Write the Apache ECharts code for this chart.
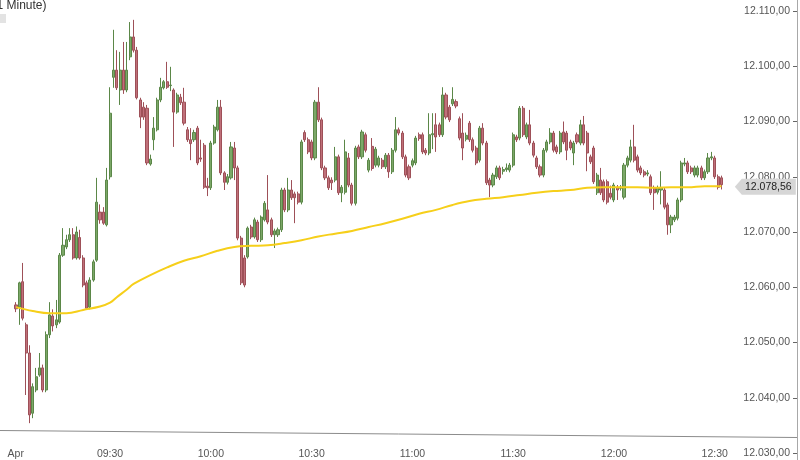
<!DOCTYPE html>
<html>
<head>
<meta charset="utf-8">
<script src="https://cdn.jsdelivr.net/npm/echarts@6/dist/echarts.min.js"></script>
<style>
html,body{margin:0;padding:0;background:#fff;}
#chart{width:800px;height:460px;}
</style>
</head>
<body>
<div id="chart"></div>
<script>
// ---- axis labels ----
const tickTimes  = ['09:00','09:30','10:00','10:30','11:00','11:30','12:00','12:30'];
const tickLabels = ['Apr','09:30','10:00','10:30','11:00','11:30','12:00','12:30'];
const lastPrice = 12078.56;

// ---- 1-minute candles [open, close, low, high], 09:02 .. 12:32 ----
const bars0900 = [
 [12056.8,12056.1,12055.5,12057.3],[12056.4,12060.8,12053.2,12061.0],[12061.0,12054.4,12054.0,12064.4],
 [12053.2,12048.1,12040.5,12053.6],[12048.1,12036.9,12035.4,12049.5],[12037.2,12042.0,12036.3,12042.6],
 [12041.4,12043.8,12041.0,12045.4],[12044.1,12045.4,12043.8,12048.1],[12045.4,12041.4,12041.0,12046.0],
 [12041.4,12051.4,12041.0,12052.0],[12051.4,12055.0,12050.8,12057.3],[12054.8,12053.0,12052.0,12056.0],
 [12053.2,12054.1,12052.6,12057.7],[12053.7,12065.8,12053.4,12066.2],[12065.8,12067.6,12065.5,12070.7],
 [12067.3,12068.6,12066.9,12069.5],[12068.6,12069.5,12068.2,12070.7],[12069.5,12065.3,12065.0,12070.7],
 [12065.3,12070.0,12065.0,12071.0],[12069.0,12065.3,12065.0,12070.4],[12065.3,12060.4,12060.0,12065.8],
 [12060.8,12056.2,12056.0,12061.2],[12056.4,12061.3,12056.0,12061.8],[12061.3,12064.6,12061.0,12065.0],
 [12064.9,12075.4,12064.6,12079.8],[12073.6,12072.2,12071.5,12075.0],[12073.6,12071.6,12071.3,12074.5],
 [12071.3,12079.4,12071.0,12081.6]
];
const bars0930 = [
 [12080.0,12091.5,12079.5,12096.2],[12098.0,12099.3,12096.1,12106.6],[12099.3,12096.1,12095.7,12102.9],
 [12095.7,12099.3,12093.0,12102.6],[12099.3,12095.7,12095.0,12104.4],[12095.7,12099.3,12095.3,12104.4],
 [12101.7,12105.3,12101.1,12108.0],[12105.3,12102.9,12102.5,12108.4],[12102.9,12094.3,12094.0,12103.5],
 [12093.9,12090.8,12088.8,12094.3],[12092.6,12090.8,12090.3,12093.5],[12092.4,12082.5,12082.1,12093.0],
 [12082.3,12083.2,12082.0,12084.0],[12086.7,12088.8,12084.8,12090.8],[12088.5,12093.9,12088.2,12094.3],
 [12093.9,12096.2,12093.5,12097.9],[12096.1,12097.2,12095.8,12097.5],[12097.2,12096.2,12095.9,12100.8],
 [12096.5,12096.6,12095.5,12099.9],[12095.7,12091.7,12085.4,12096.0],[12091.7,12094.8,12091.4,12095.2],
 [12094.4,12093.4,12093.0,12095.0],[12093.5,12089.7,12089.3,12096.1],[12088.5,12086.7,12086.3,12089.0],
 [12086.7,12086.0,12083.0,12088.8],[12086.7,12088.0,12086.3,12088.5],[12088.8,12082.5,12082.1,12089.2],
 [12083.4,12083.2,12082.7,12086.7],[12085.7,12078.1,12077.8,12086.1],[12078.3,12078.0,12076.5,12079.8]
];
const bars1000 = [
 [12078.0,12086.1,12077.6,12086.5],[12086.1,12089.0,12085.8,12089.4],[12088.5,12092.6,12088.2,12093.9],
 [12092.6,12080.7,12080.3,12093.9],[12080.7,12079.0,12077.6,12081.0],[12079.0,12080.0,12078.6,12080.5],
 [12079.8,12085.4,12079.5,12086.3],[12085.2,12081.6,12079.4,12086.3],[12081.6,12068.9,12068.5,12082.0],
 [12068.9,12060.8,12060.4,12069.3],[12065.3,12060.4,12060.0,12065.8],[12065.5,12070.7,12065.2,12071.0],
 [12070.9,12069.1,12068.7,12071.3],[12069.1,12072.2,12068.8,12072.6],[12071.8,12068.6,12068.2,12072.2],
 [12068.6,12072.7,12068.2,12073.0],[12072.2,12075.2,12071.9,12075.6],[12074.0,12071.8,12071.4,12080.3],
 [12072.2,12069.5,12069.1,12072.6],[12069.5,12070.2,12067.1,12070.6],[12069.5,12070.4,12069.1,12070.8],
 [12070.4,12077.6,12070.0,12078.0],[12077.6,12074.0,12073.6,12078.0],[12074.0,12077.6,12073.6,12079.8],
 [12077.6,12076.2,12075.8,12079.4],[12076.9,12076.2,12071.6,12077.3],[12076.9,12075.4,12075.0,12077.3],
 [12075.4,12086.3,12075.0,12086.7],[12088.0,12086.7,12086.3,12088.4],[12086.7,12084.5,12084.1,12087.1]
];
const bars1030 = [
 [12086.3,12083.4,12083.0,12086.7],[12083.4,12093.5,12083.0,12093.9],[12093.5,12090.3,12089.9,12096.2],
 [12090.3,12081.6,12081.2,12090.7],[12081.6,12079.8,12079.4,12082.0],[12079.8,12078.0,12077.6,12080.2],
 [12079.4,12078.9,12077.6,12079.9],[12079.4,12083.6,12079.0,12085.4],[12083.6,12077.1,12076.7,12084.0],
 [12077.1,12078.1,12075.4,12078.5],[12077.2,12084.5,12076.8,12086.7],[12083.4,12078.5,12078.1,12084.3],
 [12078.5,12075.2,12074.8,12078.9],[12075.2,12085.2,12074.8,12085.6],[12085.4,12083.6,12083.2,12085.8],
 [12083.6,12088.1,12083.2,12088.5],[12087.6,12084.8,12084.4,12088.0],[12081.2,12083.0,12080.8,12083.4],
 [12085.5,12081.5,12081.1,12087.0],[12082.1,12085.0,12081.7,12085.4],[12082.1,12083.4,12081.7,12083.8],
 [12083.0,12081.8,12081.4,12083.4],[12081.8,12083.9,12081.4,12084.3],[12083.9,12080.9,12079.8,12084.3],
 [12080.9,12084.8,12080.5,12085.2],[12084.8,12088.5,12084.4,12090.8],[12088.5,12087.9,12087.5,12088.9],
 [12087.9,12083.6,12083.2,12088.3],[12083.6,12080.3,12079.9,12084.0],[12081.8,12079.8,12079.4,12082.2]
];
const bars1100 = [
 [12082.1,12082.9,12081.7,12083.3],[12082.5,12087.0,12082.1,12087.4],[12087.6,12086.9,12086.5,12088.0],
 [12087.6,12084.5,12084.1,12088.0],[12084.8,12084.3,12083.9,12085.2],[12084.3,12087.6,12083.9,12091.5],
 [12087.6,12087.8,12085.0,12091.5],[12089.4,12087.2,12084.5,12091.5],[12089.4,12087.6,12087.2,12089.8],
 [12087.6,12094.8,12087.2,12096.2],[12094.8,12090.8,12090.4,12095.2],[12092.6,12090.3,12089.9,12093.0],
 [12093.2,12094.0,12092.8,12096.2],[12093.6,12092.8,12092.4,12094.0],[12090.5,12087.0,12086.6,12090.9],
 [12087.9,12085.2,12083.0,12091.5],[12086.8,12087.5,12086.4,12088.0],[12089.7,12086.7,12086.3,12090.1],
 [12086.7,12084.8,12084.4,12087.1],[12085.2,12082.5,12082.1,12085.6],[12083.0,12088.8,12082.6,12089.2],
 [12088.8,12086.1,12085.7,12089.7],[12086.1,12078.9,12078.5,12086.5],[12079.4,12078.5,12076.3,12079.8],
 [12078.5,12080.3,12078.1,12080.7],[12080.0,12081.6,12079.6,12082.0],[12081.6,12079.8,12079.4,12082.0],
 [12081.0,12081.3,12080.4,12081.8],[12081.3,12081.6,12080.9,12082.4],[12081.2,12082.1,12080.8,12082.5]
];
const bars1130 = [
 [12082.1,12087.6,12081.7,12088.0],[12087.2,12086.7,12086.3,12087.6],[12087.0,12092.4,12086.6,12092.8],
 [12092.4,12087.6,12087.2,12092.8],[12087.2,12089.4,12086.8,12089.8],[12089.4,12086.1,12085.7,12092.1],
 [12086.1,12083.9,12083.5,12086.5],[12083.4,12081.8,12081.4,12083.8],[12081.8,12080.3,12079.9,12082.2],
 [12080.3,12084.8,12079.9,12085.2],[12084.8,12086.3,12084.4,12086.7],[12086.3,12087.9,12085.9,12088.8],
 [12087.9,12084.8,12084.4,12088.3],[12085.4,12084.5,12084.1,12085.8],[12084.5,12087.9,12084.1,12088.3],
 [12088.1,12086.3,12085.9,12090.0],[12087.9,12084.8,12083.0,12088.3],[12086.3,12085.2,12084.8,12086.7],
 [12084.3,12086.1,12082.1,12086.5],[12087.6,12086.3,12085.9,12088.0],[12086.1,12089.4,12085.7,12090.3],
 [12089.4,12086.1,12085.7,12091.0],[12087.9,12084.3,12081.0,12088.3],[12083.6,12082.7,12082.3,12084.0],
 [12085.2,12079.1,12078.7,12085.6],[12077.1,12080.3,12076.7,12080.7],[12079.4,12077.1,12076.7,12081.6],
 [12079.1,12075.8,12075.4,12079.5],[12079.1,12075.4,12075.0,12079.5],[12077.0,12076.3,12075.9,12078.4]
];
const bars1200 = [
 [12075.8,12078.5,12075.4,12078.9],[12078.1,12077.6,12075.8,12078.5],[12077.9,12078.1,12077.5,12078.5],
 [12076.3,12082.1,12075.9,12082.5],[12082.1,12083.4,12081.7,12083.8],[12083.0,12085.4,12082.6,12086.7],
 [12085.4,12083.0,12082.6,12089.4],[12083.6,12081.2,12080.8,12084.0],[12081.6,12080.7,12080.3,12082.0],
 [12080.9,12080.3,12079.9,12081.3],[12080.5,12080.7,12080.1,12081.2],[12080.0,12077.1,12076.7,12080.4],
 [12078.0,12077.1,12074.0,12078.4],[12077.2,12078.0,12076.8,12078.4],[12077.6,12078.0,12075.0,12081.0],
 [12077.6,12074.5,12074.1,12078.0],[12074.9,12071.3,12069.5,12075.3],[12071.3,12072.7,12069.8,12073.1],
 [12072.2,12072.7,12071.8,12073.1],[12072.5,12075.8,12072.1,12076.2],[12075.8,12082.5,12075.4,12082.9],
 [12082.3,12082.5,12081.9,12083.4],[12082.5,12080.9,12080.5,12082.9],[12081.6,12080.9,12080.5,12082.0],
 [12080.3,12081.6,12079.9,12082.0],[12080.3,12081.6,12079.9,12082.0],[12081.6,12079.8,12079.4,12082.0],
 [12079.8,12080.9,12079.4,12081.3],[12080.9,12083.4,12080.5,12084.3],[12083.4,12083.6,12083.0,12084.5]
];
const bars1230 = [
 [12083.4,12080.0,12079.6,12083.8],[12080.0,12078.1,12077.7,12080.4],[12079.8,12078.56,12077.7,12080.2]
];

// ---- moving average (yellow line) ----
const maTimes = ['09:02','09:07','09:12','09:17','09:22','09:27','09:30','09:32','09:35','09:37','09:42','09:47','09:52','09:57',
 '10:02','10:07','10:12','10:17','10:22','10:27','10:32','10:37','10:42','10:47','10:52','10:57',
 '11:02','11:07','11:12','11:17','11:22','11:27','11:32','11:37','11:42','11:47','11:52','11:57',
 '12:02','12:07','12:12','12:17','12:22','12:27','12:32'];
const maValues = [12056.4,12055.7,12055.3,12055.3,12055.9,12056.5,12057.2,12058.2,12059.6,12060.6,12062.2,12063.6,12064.8,12065.6,
 12066.6,12067.3,12067.5,12067.6,12068.0,12068.5,12069.2,12069.7,12070.2,12070.9,12071.6,12072.4,
 12073.3,12074.0,12074.9,12075.6,12076.0,12076.3,12076.7,12077.1,12077.4,12077.6,12078.0,12078.1,
 12078.1,12078.1,12078.0,12078.1,12078.1,12078.3,12078.3];

// ---- build ----
const cats = [];
for (let i = 0; i < 235; i++) {
  const t = 540 + i;
  cats.push(String(Math.floor(t / 60)).padStart(2, '0') + ':' + String(t % 60).padStart(2, '0'));
}
const candles = ['-', '-'].concat(bars0900, bars0930, bars1000, bars1030, bars1100, bars1130, bars1200, bars1230);
const maData = maTimes.map((t, i) => [t, maValues[i]]);

function de(v) {
  const s = Number(v).toFixed(2);
  const parts = s.split('.');
  return parts[0].replace(/\B(?=(\d{3})+(?!\d))/g, '.') + ',' + parts[1];
}

const chart = echarts.init(document.getElementById('chart'), null, {renderer: 'canvas'});
chart.setOption({
  animation: false,
  backgroundColor: '#ffffff',
  grid: {left: 7.6, right: 3, top: 11, bottom: 7, containLabel: false},
  xAxis: {
    type: 'category',
    data: cats,
    boundaryGap: true,
    offset: -7,
    axisLine: {show: false},
    axisTick: {show: false},
    axisLabel: {
      margin: 3,
      interval: (i, v) => tickTimes.indexOf(v) >= 0,
      formatter: v => {
        const idx = tickTimes.indexOf(v);
        if (idx === 0) return '{a|' + tickLabels[0] + '}';
        return idx >= 0 ? tickLabels[idx] : '';
      },
      rich: {a: {padding: [0, 0, 0, 13], color: '#555', fontSize: 10.5, fontFamily: 'Arial'}},
      color: '#555',
      fontSize: 10.5,
      fontFamily: 'Arial'
    },
    splitLine: {show: false}
  },
  yAxis: {
    type: 'value',
    position: 'right',
    min: 12030,
    max: 12110,
    interval: 10,
    axisLine: {show: false},
    axisTick: {show: true, inside: true, length: 4, lineStyle: {color: '#666'}},
    axisLabel: {inside: true, margin: 7, formatter: v => de(v), color: '#555', fontSize: 10.5, fontFamily: 'Arial'},
    splitLine: {show: false}
  },
  series: [
    {
      type: 'candlestick',
      data: candles,
      barWidth: 2.6,
      itemStyle: {
        color: '#7ca868', color0: '#c0707a',
        borderColor: '#5b8748', borderColor0: '#9e5058', borderColorDoji: '#777',
        borderWidth: 1
      },
      markPoint: {
        silent: true,
        symbol: 'path://M0,8L7,0L61,0L61,16L7,16Z',
        symbolSize: [61, 16],
        symbolKeepAspect: false,
        symbolOffset: [-30, 2],
        itemStyle: {color: '#d6d6d6'},
        label: {show: true, position: 'inside', offset: [3, 0], color: '#222', fontSize: 10.5, fontFamily: 'Arial', formatter: () => de(lastPrice)},
        data: [{coord: [cats[234], lastPrice], value: lastPrice, itemStyle: {color: '#d6d6d6'}}]
      }
    },
    {
      type: 'line',
      data: maData,
      smooth: 0.4,
      symbol: 'none',
      z: 5,
      lineStyle: {color: '#f6cf1a', width: 2}
    }
  ],
  graphic: [
    {type: 'line', silent: true, shape: {x1: 0, y1: 430.5, x2: 797, y2: 437.5}, style: {stroke: '#8c8c8c', lineWidth: 1}},
    {type: 'line', silent: true, shape: {x1: 797.5, y1: 0, x2: 797.5, y2: 460}, style: {stroke: '#a8a8a8', lineWidth: 1}},
    {type: 'text', silent: true, x: -7.5, y: 0, style: {text: '(1 Minute)', font: '12px Arial', fill: '#333'}},
    {type: 'rect', silent: true, shape: {x: 0, y: 14, width: 6, height: 9}, style: {fill: '#e3e3e3'}}
  ]
});
</script>
</body>
</html>
